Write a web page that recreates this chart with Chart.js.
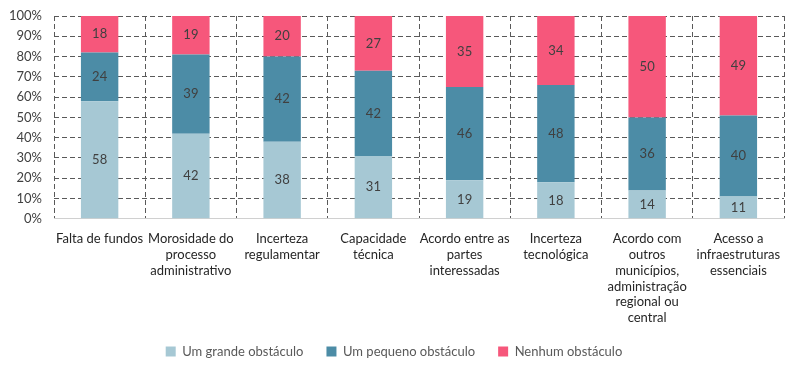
<!DOCTYPE html>
<html>
<head>
<meta charset="utf-8">
<script src="https://cdn.jsdelivr.net/npm/chart.js@4"></script>
<style>
  html, body { margin: 0; padding: 0; background: #fff; }
  #wrap { width: 800px; height: 373px; }
</style>
</head>
<body>
<div id="wrap"><canvas id="chart"></canvas></div>
<script>
const categories = [
  "Falta de fundos",
  ["Morosidade do", "processo", "administrativo"],
  ["Incerteza", "regulamentar"],
  ["Capacidade", "técnica"],
  ["Acordo entre as", "partes", "interessadas"],
  ["Incerteza", "tecnológica"],
  ["Acordo com", "outros", "municípios,", "administração", "regional ou", "central"],
  ["Acesso a", "infraestruturas", "essenciais"]
];
const grandeObstaculo = [58, 42, 38, 31, 19, 18, 14, 11];
const pequenoObstaculo = [24, 39, 42, 42, 46, 48, 36, 40];
const nenhumObstaculo = [18, 19, 20, 27, 35, 34, 50, 49];
const seriesNames = ["Um grande obstáculo", "Um pequeno obstáculo", "Nenhum obstáculo"];

const FONT = "Lato, 'Open Sans', sans-serif";

// draw the value in the middle of each segment
const segmentLabels = {
  id: "segmentLabels",
  afterDatasetsDraw(chart) {
    const ctx = chart.ctx;
    ctx.save();
    ctx.font = "13px " + FONT;
    ctx.fillStyle = "#404040";
    ctx.textAlign = "center";
    ctx.textBaseline = "middle";
    chart.data.datasets.forEach((ds, i) => {
      chart.getDatasetMeta(i).data.forEach((bar, j) => {
        ctx.fillText(ds.data[j], bar.x, (bar.y + bar.base) / 2);
      });
    });
    ctx.restore();
  }
};

// pull the legend up a bit, closer to the category labels
const legendShift = {
  id: "legendShift",
  afterLayout(chart) {
    const lg = chart.legend;
    lg.top = 322;
    lg.bottom = 373;
    lg.height = lg.bottom - lg.top;
  }
};

new Chart(document.getElementById("chart"), {
  type: "bar",
  data: {
    labels: categories,
    datasets: [
      { label: seriesNames[0], data: grandeObstaculo, backgroundColor: "#A6C8D4" },
      { label: seriesNames[1], data: pequenoObstaculo, backgroundColor: "#4C8CA6" },
      { label: seriesNames[2], data: nenhumObstaculo, backgroundColor: "#F6577B" }
    ]
  },
  options: {
    responsive: true,
    maintainAspectRatio: false,
    animation: false,
    layout: { padding: { left: 4, right: 16, top: 16, bottom: 0 } },
    datasets: { bar: { categoryPercentage: 1, barPercentage: 0.41 } },
    scales: {
      x: {
        stacked: true,
        grid: { offset: true, color: "#595959", lineWidth: 1, drawTicks: false },
        border: { display: true, color: "#D0D0D0", dash: [5, 3] },
        ticks: {
          color: "#262626",
          font: { family: FONT, size: 13, lineHeight: 1.22 },
          maxRotation: 0,
          autoSkip: false,
          padding: 12
        }
      },
      y: {
        stacked: true,
        min: 0,
        max: 100,
        afterFit: (s) => { s.width = 50; s.paddingTop = 8; s.paddingBottom = 8; },
        grid: { color: "#595959", lineWidth: 1, drawTicks: false },
        border: { display: false, dash: [5, 3] },
        ticks: {
          stepSize: 10,
          autoSkip: false,
          color: "#404040",
          font: { family: FONT, size: 13 },
          padding: 12,
          callback: (v) => v + "%"
        }
      }
    },
    plugins: {
      legend: {
        position: "bottom",
        maxHeight: 35,
        labels: {
          color: "#595959",
          font: { family: FONT, size: 13 },
          boxWidth: 10,
          boxHeight: 10,
          padding: 23
        }
      },
      tooltip: { enabled: false }
    }
  },
  plugins: [segmentLabels, legendShift]
});
</script>
</body>
</html>
